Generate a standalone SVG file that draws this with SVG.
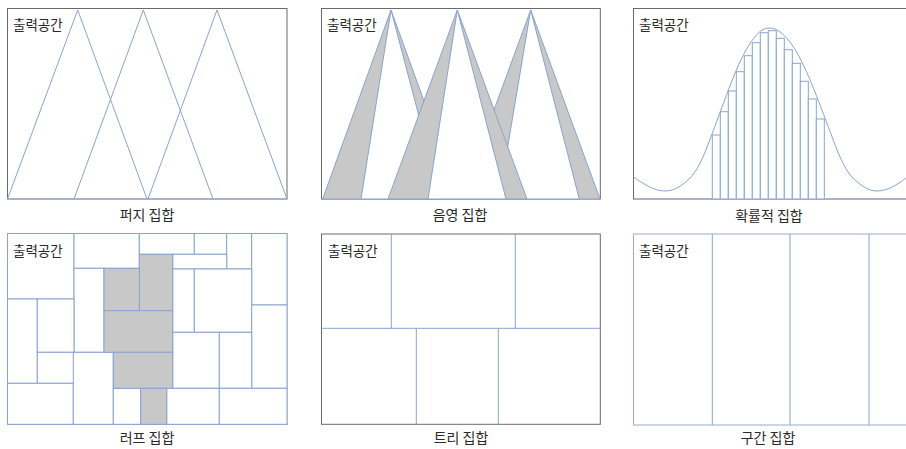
<svg xmlns="http://www.w3.org/2000/svg" width="906" height="449" viewBox="0 0 906 449">
<style>
.box{fill:#fff;stroke:#6a6a6a;stroke-width:1}
.bbox{fill:#fff;stroke:#9aabc8;stroke-width:1}
.ln{fill:none;stroke:#8aa3cf;stroke-width:1}
.g{fill:#c8c8c8;stroke:#8aa3cf;stroke-width:1}
.w{fill:#fff;stroke:#8aa3cf;stroke-width:1}
.c{fill:#fff;stroke:#8aa3cf;stroke-width:1}
.t{font-family:"Noto Sans CJK KR","Noto Sans",sans-serif;font-size:13.5px;fill:#2a2a2a}
.lb{font-family:"Noto Sans CJK KR","Noto Sans",sans-serif;font-size:14px;fill:#2a2a2a;text-anchor:middle}
</style>
<rect width="906" height="449" fill="#fff"/>

<g id="fuzzy">
<rect class="box" x="7.5" y="8.5" width="279.5" height="190.5"/>
<line x1="7.5" y1="199" x2="287" y2="199" stroke="#9bb3d6"/>
<polyline class="ln" points="7.5,199 77.7,10 147,199"/>
<polyline class="ln" points="74,199 143.3,10 213,199"/>
<polyline class="ln" points="148,199 217,10 287,199"/>
<text class="t" x="13" y="30">출력공간</text>
<text class="lb" x="147" y="220">퍼지 집합</text>
</g>

<g id="shaded">
<rect class="box" x="321.5" y="8.5" width="278.8" height="190.5"/>
<line x1="321.5" y1="199" x2="600.3" y2="199" stroke="#9bb3d6"/>
<polygon class="g" points="391,10 322.7,199 459.5,199"/>
<polygon class="w" points="391,10 361,199 440.8,199"/>
<polygon class="g" points="530.7,10 461.3,199 600,199"/>
<polygon class="w" points="530.7,10 498.9,199 579.3,199"/>
<polygon class="g" points="457.3,10 388,199 527,199"/>
<polygon class="w" points="457.3,10 428,199 506,199"/>
<text class="t" x="327" y="30">출력공간</text>
<text class="lb" x="460" y="220">음영 집합</text>
</g>

<g id="probabilistic">
<rect class="box" x="633.5" y="8.5" width="280" height="190.5"/>
<line x1="633.5" y1="199" x2="906" y2="199" stroke="#9bb3d6"/>
<g class="c">
<rect x="712.3" y="135" width="8" height="64"/>
<rect x="720.3" y="111.7" width="8" height="87.3"/>
<rect x="728.3" y="91" width="8" height="108"/>
<rect x="736.3" y="71.7" width="8" height="127.3"/>
<rect x="744.3" y="55.7" width="8" height="143.3"/>
<rect x="752.3" y="42.7" width="8" height="156.3"/>
<rect x="760.3" y="32.7" width="8" height="166.3"/>
<rect x="768.3" y="30.7" width="8" height="168.3"/>
<rect x="776.3" y="38.3" width="8" height="160.7"/>
<rect x="784.3" y="49.7" width="8" height="149.3"/>
<rect x="792.3" y="63.3" width="8" height="135.7"/>
<rect x="800.3" y="81.3" width="8" height="117.7"/>
<rect x="808.3" y="99" width="8" height="100"/>
<rect x="816.3" y="119" width="8" height="80"/>
</g>
<path class="ln" d="M633.5,177 C645,185 655,191 665,191 C675,191 683,185 691,177 C700,167 706,150 712,134 C725,100 738,60 751,42 C758,32 763,28 769,28 C776,28 782,32 790,42 C805,62 818,100 831,134 C837,150 843,167 852,177 C860,185 868,191 877,191 C887,191 897,185 906,178"/>
<text class="t" x="639" y="30">출력공간</text>
<text class="lb" x="769" y="221">확률적 집합</text>
</g>

<g id="rough">
<rect class="bbox" x="7.5" y="233.5" width="279.5" height="191"/>
<g class="c">
<rect x="7.5" y="233.5" width="66.5" height="65.5"/>
<rect x="74" y="233.5" width="65.3" height="34.8"/>
<rect x="139.3" y="233.5" width="55" height="20.8"/>
<rect x="194.3" y="233.5" width="32.4" height="20.8"/>
<rect x="226.7" y="233.5" width="25" height="35.5"/>
<rect x="251.7" y="233.5" width="35.3" height="71.5"/>
<rect x="172.7" y="254.3" width="54" height="14.7"/>
<rect x="74" y="268.3" width="30" height="84"/>
<rect x="172.7" y="269" width="21.6" height="63.3"/>
<rect x="194.3" y="269" width="57.4" height="63.3"/>
<rect x="251.7" y="305" width="35.3" height="83.3"/>
<rect x="7.5" y="299" width="29.8" height="84.3"/>
<rect x="37.3" y="299" width="36.7" height="53.3"/>
<rect x="37.3" y="352.3" width="36.7" height="31"/>
<rect x="7.5" y="383.3" width="65.8" height="41"/>
<rect x="73.3" y="352.3" width="40" height="72"/>
<rect x="172.7" y="332.3" width="46.6" height="56"/>
<rect x="219.3" y="332.3" width="32.4" height="56"/>
<rect x="113.3" y="388.3" width="27.4" height="36"/>
<rect x="166.7" y="388.3" width="52.6" height="36"/>
<rect x="219.3" y="388.3" width="67.7" height="36"/>
</g>
<g class="g">
<rect x="139.3" y="254.3" width="33.4" height="56.4"/>
<rect x="104" y="268.3" width="35.3" height="42.4"/>
<rect x="104" y="310.7" width="68.7" height="41.6"/>
<rect x="113.3" y="352.3" width="59.4" height="36"/>
<rect x="140.7" y="388.3" width="26" height="36"/>
</g>
<text class="t" x="13" y="255.7">출력공간</text>
<text class="lb" x="147" y="443">러프 집합</text>
</g>

<g id="tree">
<rect class="box" x="321.5" y="234" width="278.8" height="190.3"/>
<line class="ln" x1="391.3" y1="234" x2="391.3" y2="328.3"/>
<line class="ln" x1="515.3" y1="234" x2="515.3" y2="328.3"/>
<line class="ln" x1="321.5" y1="328.3" x2="600.3" y2="328.3"/>
<line class="ln" x1="416.3" y1="328.3" x2="416.3" y2="424.3"/>
<line class="ln" x1="498.3" y1="328.3" x2="498.3" y2="424.3"/>
<text class="t" x="328" y="255.7">출력공간</text>
<text class="lb" x="461" y="443">트리 집합</text>
</g>

<g id="interval">
<rect class="bbox" x="633.5" y="234" width="280" height="191"/>
<line class="ln" x1="712.3" y1="234" x2="712.3" y2="425"/>
<line class="ln" x1="790" y1="234" x2="790" y2="425"/>
<line class="ln" x1="869" y1="234" x2="869" y2="425"/>
<text class="t" x="639" y="255.7">출력공간</text>
<text class="lb" x="768" y="443">구간 집합</text>
</g>

<g id="connectors"></g>
</svg>
